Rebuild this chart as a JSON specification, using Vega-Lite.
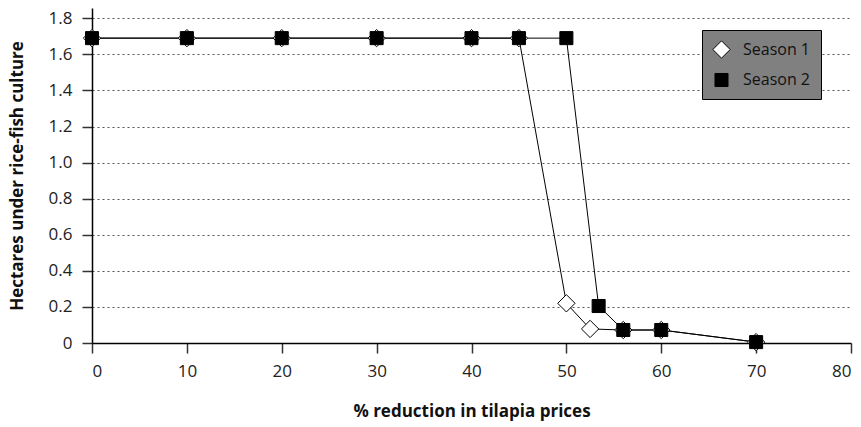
{
  "$schema": "https://vega.github.io/schema/vega-lite/v6.json",
  "autosize": {"type": "none"},
  "width": 759,
  "height": 335,
  "padding": {"left": 92, "top": 8, "right": 10, "bottom": 84},
  "background": "white",
  "config": {
    "view": {"stroke": null},
    "font": "Open Sans",
    "axis": {"labelFont": "Open Sans", "titleFont": "Open Sans"}
  },
  "data": {
    "values": [
      {"series": "Season 1", "x": 0, "y": 1.69},
      {"series": "Season 1", "x": 10, "y": 1.69},
      {"series": "Season 1", "x": 20, "y": 1.69},
      {"series": "Season 1", "x": 30, "y": 1.69},
      {"series": "Season 1", "x": 40, "y": 1.69},
      {"series": "Season 1", "x": 45, "y": 1.69},
      {"series": "Season 1", "x": 50, "y": 0.22},
      {"series": "Season 1", "x": 52.5, "y": 0.078},
      {"series": "Season 1", "x": 56, "y": 0.072},
      {"series": "Season 1", "x": 60, "y": 0.072},
      {"series": "Season 1", "x": 70, "y": 0.005},
      {"series": "Season 2", "x": 0, "y": 1.69},
      {"series": "Season 2", "x": 10, "y": 1.69},
      {"series": "Season 2", "x": 20, "y": 1.69},
      {"series": "Season 2", "x": 30, "y": 1.69},
      {"series": "Season 2", "x": 40, "y": 1.69},
      {"series": "Season 2", "x": 45, "y": 1.69},
      {"series": "Season 2", "x": 50, "y": 1.69},
      {"series": "Season 2", "x": 53.4, "y": 0.205},
      {"series": "Season 2", "x": 56, "y": 0.072},
      {"series": "Season 2", "x": 60, "y": 0.072},
      {"series": "Season 2", "x": 70, "y": 0.005}
    ]
  },
  "encoding": {
    "x": {
      "field": "x", "type": "quantitative",
      "scale": {"domain": [0, 80], "nice": false, "zero": false},
      "axis": {
        "title": "% reduction in tilapia prices",
        "values": [0, 10, 20, 30, 40, 50, 60, 70, 80],
        "grid": false,
        "domainColor": "black", "domainWidth": 1.5,
        "tickColor": "#333", "tickSize": 10, "tickWidth": 1.5,
        "labelFontSize": 17, "labelColor": "#222", "labelPadding": 10,
        "titleFontSize": 17, "titleFontWeight": "bold", "titleColor": "#111",
        "titlePadding": 24
      }
    },
    "y": {
      "field": "y", "type": "quantitative",
      "scale": {"domain": [0, 1.857], "nice": false},
      "axis": {
        "title": "Hectares under rice-fish culture",
        "values": [0, 0.2, 0.4, 0.6, 0.8, 1.0, 1.2, 1.4, 1.6, 1.8],
        "labelExpr": "datum.value == 0 ? '0' : format(datum.value, '.1f')",
        "grid": true, "gridColor": "#555", "gridDash": [2, 3], "gridWidth": 1.2,
        "domainColor": "black", "domainWidth": 1.5,
        "tickColor": "#333", "tickSize": 10, "tickWidth": 1.5,
        "labelFontSize": 17, "labelColor": "#222", "labelPadding": 10,
        "titleFontSize": 17, "titleFontWeight": "bold", "titleColor": "#111",
        "titlePadding": 22
      }
    }
  },
  "layer": [
    {
      "mark": {"type": "line", "color": "black", "strokeWidth": 1},
      "encoding": {"detail": {"field": "series"}}
    },
    {
      "mark": {"type": "point", "filled": false, "stroke": "black", "strokeWidth": 1, "opacity": 1},
      "encoding": {
        "shape": {
          "field": "series", "type": "nominal",
          "scale": {"domain": ["Season 1", "Season 2"], "range": ["diamond", "square"]},
          "legend": {
            "title": null,
            "orient": "none", "legendX": 610, "legendY": 22,
            "fillColor": "#808080", "strokeColor": "black",
            "padding": 10, "rowPadding": 10,
            "labelFontSize": 16, "labelColor": "#111", "labelFont": "Open Sans",
            "symbolSize": 200, "symbolStrokeColor": "black", "symbolStrokeWidth": 1,
            "labelOffset": 12
          }
        },
        "fill": {
          "field": "series", "type": "nominal",
          "scale": {"domain": ["Season 1", "Season 2"], "range": ["white", "black"]}
        },
        "size": {
          "field": "series", "type": "nominal",
          "scale": {"domain": ["Season 1", "Season 2"], "range": [300, 170]}
        }
      }
    }
  ]
}
